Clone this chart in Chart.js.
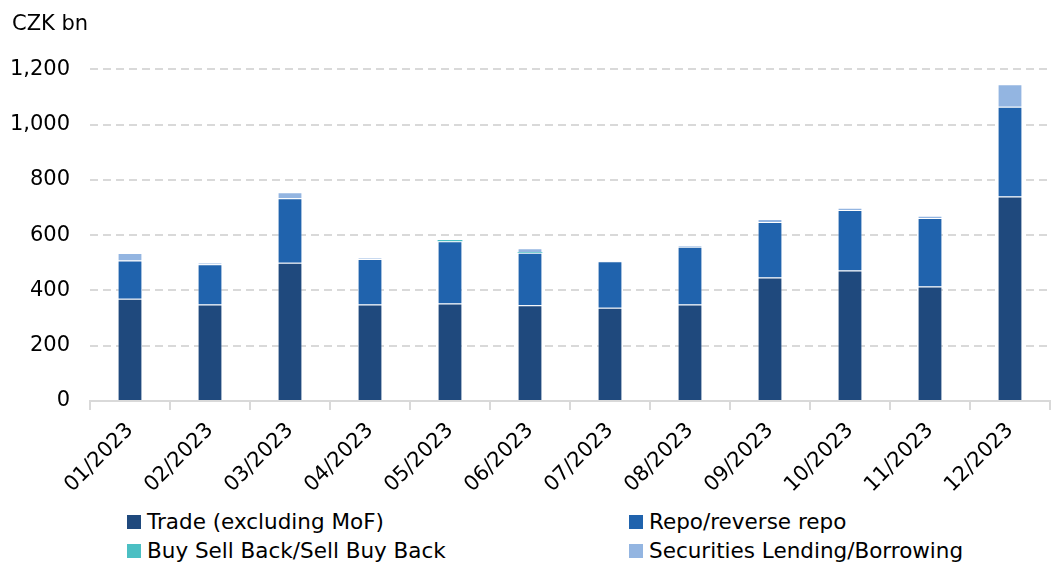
<!DOCTYPE html>
<html>
<head>
<meta charset="utf-8">
<script src="https://cdn.jsdelivr.net/npm/chart.js@4/dist/chart.umd.min.js"></script>
<style>
    body { margin: 0; background: #fff; font-family: "DejaVu Sans", Verdana, sans-serif; }
    #wrap { position: relative; width: 1051px; height: 566px; }
    #box { position: absolute; left: 0; top: 0; width: 1051px; height: 500px; }
    #legenda { position: absolute; left: 127px; top: 509px; width: 920px; }
    .item { position: absolute; font-size: 21.5px; color: #000; white-space: nowrap; line-height: 26px; }
    .item span { display: inline-block; width: 14px; height: 14px; margin-right: 6px; vertical-align: 0px; }
</style>
</head>
<body>
<div id="wrap">
    <div id="box"><canvas id="grafico"></canvas></div>
    <div id="legenda"></div>
</div>
<script>
const meses = ["01/2023", "02/2023", "03/2023", "04/2023", "05/2023", "06/2023",
    "07/2023", "08/2023", "09/2023", "10/2023", "11/2023", "12/2023"];
const trade = [370, 349, 500, 349, 353, 346, 337, 349, 447, 472, 414, 740];
const repo = [138, 146, 233, 165, 225, 190, 168, 209, 200, 219, 248, 324];
const buySellBack = [0, 0, 0, 0, 4, 3, 0, 0, 0, 0, 0, 0];
const secLending = [27, 4, 22, 3, 1, 13, 3, 6, 11, 8, 8, 82];
const ticksY = [0, 200, 400, 600, 800, 1000, 1200];

const series = [
    { label: "Trade (excluding MoF)", data: trade, cor: "#1f497d", borda: 1 },
    { label: "Repo/reverse repo", data: repo, cor: "#2063ad", borda: 1 },
    { label: "Buy Sell Back/Sell Buy Back", data: buySellBack, cor: "#4bbfc3", borda: 0 },
    { label: "Securities Lending/Borrowing", data: secLending, cor: "#93b5e1", borda: 1 }
];

const fonte = "'DejaVu Sans', Verdana, sans-serif";

new Chart(document.getElementById("grafico"), {
    type: "bar",
    data: {
        labels: meses,
        datasets: series.map(function (s) {
            return {
                label: s.label,
                data: s.data,
                backgroundColor: s.cor,
                borderColor: "rgba(255,255,255,0.35)",
                borderWidth: s.borda,
                barPercentage: 0.31,
                categoryPercentage: 1
            };
        })
    },
    options: {
        responsive: true,
        maintainAspectRatio: false,
        animation: false,
        layout: { padding: { left: 12, right: 1, top: 0, bottom: 0 } },
        plugins: {
            legend: { display: false },
            tooltip: { enabled: false },
            title: {
                display: true,
                text: "CZK bn",
                align: "start",
                color: "#000",
                font: { family: fonte, size: 21, weight: "normal" },
                padding: { top: 12, bottom: 32 }
            }
        },
        scales: {
            x: {
                stacked: true,
                afterFit: function (axis) { axis.height = 99; },
                grid: {
                    offset: true,
                    drawOnChartArea: false,
                    drawTicks: true,
                    tickLength: 9,
                    color: "#d9d9d9",
                    lineWidth: 2
                },
                border: { color: "#d9d9d9", width: 2 },
                ticks: {
                    color: "#000",
                    font: { family: fonte, size: 21 },
                    maxRotation: 45,
                    minRotation: 45,
                    padding: 8
                }
            },
            y: {
                stacked: true,
                min: 0,
                max: 1200,
                afterFit: function (axis) { axis.width = 78; },
                afterBuildTicks: function (axis) {
                    axis.ticks = ticksY.map(function (v) { return { value: v }; });
                },
                grid: {
                    drawTicks: false,
                    color: function (ctx) { return ctx.tick.value === 0 ? "rgba(0,0,0,0)" : "#d9d9d9"; },
                    lineWidth: 2
                },
                border: { display: false, dash: [8, 5] },
                ticks: {
                    color: "#000",
                    font: { family: fonte, size: 21 },
                    padding: 20
                }
            }
        }
    }
});

const legenda = document.getElementById("legenda");
const posicoes = [[0, 0], [502, 0], [0, 29], [502, 29]];
series.forEach(function (s, i) {
    const div = document.createElement("div");
    div.className = "item";
    div.style.left = posicoes[i][0] + "px";
    div.style.top = posicoes[i][1] + "px";
    const quadrado = document.createElement("span");
    quadrado.style.background = s.cor;
    div.appendChild(quadrado);
    div.appendChild(document.createTextNode(s.label));
    legenda.appendChild(div);
});
</script>
</body>
</html>
